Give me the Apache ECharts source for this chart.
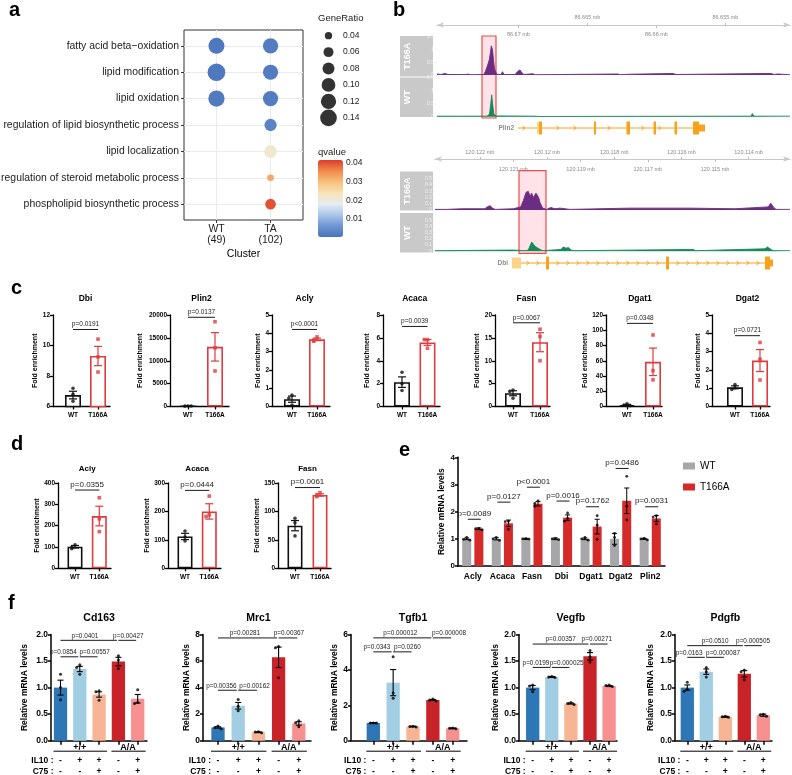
<!DOCTYPE html>
<html><head><meta charset="utf-8">
<script src="https://cdn.jsdelivr.net/npm/echarts/dist/echarts.min.js"></script>
<style>html,body{margin:0;padding:0;background:#fff}#c{width:792px;height:775px}</style>
</head><body><div id="c"></div>
<script>
const FONT = "'Liberation Sans', Arial, Helvetica, sans-serif";
// ---------------- Panel a data ----------------
const aTerms = ['fatty acid beta\u2212oxidation','lipid modification','lipid oxidation','regulation of lipid biosynthetic process','lipid localization','regulation of steroid metabolic process','phospholipid biosynthetic process'];
const aClusters = ['WT\n(49)','TA\n(102)'];
const aRatioWT = [0.130, 0.155, 0.134, null, null, null, null];
const aQvalWT  = [0.0012, 0.0012, 0.0015, null, null, null, null];
const aRatioTA = [0.120, 0.118, 0.120, 0.083, 0.088, 0.036, 0.067];
const aQvalTA  = [0.0020, 0.0018, 0.0020, 0.0030, 0.0215, 0.0325, 0.0400];
const aSizeLegend = [0.04, 0.06, 0.08, 0.10, 0.12, 0.14];
const aQTicks = [0.01, 0.02, 0.03, 0.04];
const aQRange = [0.0004, 0.0416];
// ---------------- Panel b data ----------------
const bTopRange = [86650321, 86675900];
const bTopAbove = [86665000, 86655000];
const bTopBelow = [86670000, 86660000];
const bTopT166A = [[86675900,0.04],[86675806,0.08],[86675610,0.02],[86675320,0.06],[86675103,0.02],[86673800,0.02],[86673654,0.04],[86673509,0.01],[86672494,0.02],[86672386,0.15],[86672255,0.35],[86672110,0.6],[86672023,0.9],[86671965,1.15],[86671878,1.0],[86671806,0.6],[86671733,0.25],[86671574,0.03],[86671263,0.02],[86671154,0.13],[86671045,0.02],[86670248,0.02],[86670031,0.15],[86669886,0.2],[86669741,0.08],[86669596,0.02],[86668944,0.05],[86668799,0.01],[86662785,0.04],[86662640,0.01],[86661988,0.03],[86661900,0.01],[86658799,0.06],[86658727,0.1],[86658582,0.02],[86651916,0.06],[86651698,0.06],[86651481,0.02],[86651191,0.04],[86651050,0.01],[86650321,0.01]];
const bTopWT = [[86675900,0.02],[86674233,0.02],[86674110,0.07],[86673980,0.02],[86672277,0.02],[86672096,0.1],[86672002,0.5],[86671937,0.85],[86671871,0.5],[86671784,0.1],[86671625,0.03],[86668800,0.02],[86668676,0.05],[86668509,0.01],[86653148,0.02],[86653054,0.12],[86652931,0.02],[86650321,0.02]];
const bPlin2Span = [86670031, 86656481];
const bPlin2Exons = [[86668654,86668509,'utr'],[86668509,86668292,'full'],[86664524,86664379,'full'],[86662169,86661915,'full'],[86660212,86660031,'full'],[86658691,86658510,'full'],[86657350,86656915,'full'],[86656915,86656481,'half']];
const bTopHighlight = [86672639, 86671625];
const bBotRange = [120112768, 120123333];
const bBotAbove = [120122000, 120120000, 120118000, 120116000, 120114000];
const bBotBelow = [120121000, 120119000, 120117000, 120115000];
const bBotT166A = [[120123333,0.01],[120122985,0.01],[120122539,0.02],[120121845,0.02],[120121777,0.05],[120121696,0.07],[120121616,0.03],[120121548,0.01],[120121003,0.02],[120120783,0.05],[120120705,0.15],[120120625,0.28],[120120557,0.3],[120120506,0.22],[120120455,0.27],[120120408,0.2],[120120327,0.27],[120120247,0.2],[120120208,0.12],[120120128,0.03],[120120009,0.01],[120119890,0.04],[120119762,0.02],[120119613,0.03],[120119464,0.02],[120119316,0.01],[120118423,0.02],[120117530,0.03],[120117232,0.03],[120115744,0.03],[120114405,0.02],[120113414,0.05],[120113343,0.11],[120113265,0.05],[120113185,0.01],[120112768,0.01]];
const bBotWT = [[120123333,0.01],[120121003,0.02],[120120655,0.01],[120120557,0.02],[120120455,0.15],[120120408,0.12],[120120357,0.08],[120120298,0.06],[120120208,0.03],[120120119,0.01],[120119583,0.03],[120119515,0.07],[120119435,0.05],[120119366,0.06],[120119286,0.02],[120119167,0.01],[120115655,0.03],[120115566,0.01],[120113512,0.04],[120113438,0.07],[120113364,0.04],[120113274,0.01],[120112768,0.01]];
const bDbiSpan = [120121042, 120113274];
const bDbiExons = [[120121042,120120774,'utr'],[120120030,120119940,'full'],[120116459,120116369,'full'],[120113512,120113364,'full'],[120113364,120113274,'half']];
const bBotHighlight = [120120833, 120120030];
// ---------------- Panel c data ----------------
const cGenes = ['Dbi','Plin2','Acly','Acaca','Fasn','Dgat1','Dgat2'];
const cGroups = ['WT','T166A'];
const cMean = [[6.75,9.31],[100,13040],[0.4,3.67],[2.13,5.6],[2.9,14.05],[2.0,58.6],[1.05,2.51]];
const cSem  = [[0.25,0.63],[30,3110],[0.17,0.07],[0.46,0.25],[0.55,2.08],[0.8,18],[0.08,0.6]];
const cDots = [[[7.2,6.8,6.35],[10.42,9.25,8.26]],[[120,80,100],[18535,12820,7765]],[[0.62,0.45,0.08],[3.8,3.63,3.57]],[[3.0,2.0,1.4],[5.85,5.85,5.1]],[[3.6,3.3,1.8],[16.9,15.3,10.0]],[[3.5,1.6,0.9],[93.8,47,35]],[[1.2,1.02,0.93],[3.5,2.58,1.45]]];
const cP = ['p=0.0191','p=0.0137','p<0.0001','p=0.0039','p=0.0067','p=0.0348','p=0.0721'];
const cPY = [11.05, 19500, 4.21, 7.0, 18.3, 109, 3.87];
const cYMin = [6,0,0,0,0,0,0];
const cYMax = [12,20000,5,8,20,120,5];
const cYStep = [2,5000,1,2,5,20,1];
// ---------------- Panel d data ----------------
const dGenes = ['Acly','Acaca','Fasn'];
const dMean = [[101,245],[112,200],[75,129]];
const dSem  = [[6,46],[11,27],[9,2]];
const dDots = [[[110,100,92],[331,232,172]],[[131,110,96],[254,188,182]],[[88,80,57],[133,129,126]]];
const dP = ['p=0.0355','p=0.0444','p=0.0061'];
const dPY = [367, 274, 142];
const dYMax = [400,300,150];
const dYStep = [100,100,50];
// ---------------- Panel e data ----------------
const eGenes = ['Acly','Acaca','Fasn','Dbi','Dgat1','Dgat2','Plin2'];
const eSeriesNames = ['WT','T166A'];
const eWTMean = [1.0,1.0,1.0,1.0,1.0,1.0,1.0];
const eWTSem  = [0.03,0.04,0.02,0.03,0.03,0.2,0.02];
const eWTDots = [[1.05,0.98,0.95],[1.05,1.0,0.94],[1.01,1.0,0.99],[1.02,1.0,0.97],[1.05,1.0,0.95],[1.2,1.05,0.75],[1.02,1.0,0.96]];
const eTAMean = [1.37,1.57,2.29,1.78,1.45,2.4,1.75];
const eTASem  = [0.03,0.12,0.08,0.1,0.27,0.47,0.11];
const eTADots = [[1.38,1.37,1.33],[1.65,1.63,1.35],[2.4,2.3,2.2],[1.95,1.75,1.65],[1.85,1.5,0.98],[3.3,2.2,1.7],[1.85,1.8,1.55]];
const eP = ['p=0.0089','p=0.0127','p<0.0001','p=0.0016','p=0.1762','p=0.0486','p=0.0031'];
const ePY = [1.72,2.35,2.9,2.39,2.18,3.59,2.18];
// ---------------- Panel f data ----------------
const fGenes = ['Cd163','Mrc1','Tgfb1','Vegfb','Pdgfb'];
const fMean = [[1.0,1.35,0.87,1.49,0.79],[1.0,2.63,0.64,6.28,1.3],[1.0,3.28,0.8,2.3,0.7],[1.0,1.2,0.7,1.59,1.03],[1.0,1.3,0.45,1.26,0.48]];
const fSem  = [[0.14,0.05,0.05,0.08,0.08],[0.05,0.25,0.03,0.77,0.13],[0.01,0.74,0.02,0.03,0.02],[0.04,0.01,0.01,0.07,0.01],[0.05,0.05,0.01,0.06,0.02]];
const fDots = [
 [[1.25,1.0,0.77],[1.43,1.38,1.25],[0.94,0.92,0.76],[1.6,1.52,1.36],[0.96,0.72,0.7]],
 [[1.1,1.0,0.9],[3.1,2.6,2.25],[0.68,0.65,0.6],[7.1,7.0,4.75],[1.5,1.35,1.05]],
 [[1.0,1.0,1.0],[4.75,2.7,2.4],[0.82,0.8,0.78],[2.35,2.3,2.25],[0.72,0.7,0.68]],
 [[1.05,1.03,0.92],[1.21,1.2,1.19],[0.72,0.7,0.68],[1.7,1.58,1.48],[1.05,1.04,1.02]],
 [[1.1,0.97,0.93],[1.38,1.3,1.2],[0.46,0.45,0.44],[1.33,1.3,1.15],[0.5,0.49,0.46]]];
const fYMax = [2.0, 8, 6, 2.0, 2.0];
const fYStep = [0.5, 2, 2, 0.5, 0.5];
const fBrackets = [
 [[0,1,1.58],[1,2,1.58],[0,3,1.89],[3,4,1.89]],
 [[0,1,3.8],[1,2,3.8],[0,3,7.74],[3,4,7.74]],
 [[0,1,5.02],[1,2,5.02],[0,3,5.81],[3,4,5.81]],
 [[0,1,1.38],[1,2,1.38],[0,3,1.82],[3,4,1.82]],
 [[0,1,1.57],[1,2,1.57],[0,3,1.79],[3,4,1.79]]];
const fBracketLabels = [
 ['p=0.0854','p=0.00557','p=0.0401','p=0.00427'],
 ['p=0.00356','p=0.00162','p=0.00281','p=0.00367'],
 ['p=0.0343','p=0.0260','p=0.000012','p=0.000008'],
 ['p=0.0199','p=0.000025','p=0.00357','p=0.00271'],
 ['p=0.0163','p=0.000087','p=0.0510','p=0.000505']];
const fGroupSpans = [[0,2],[3,4]];
const fGroupNames = ['+/+','A/A'];
const fIL10 = ['-','+','+','-','+'];
const fC75  = ['-','-','+','-','+'];

// ================= builders =================
const grids=[], xAxes=[], yAxes=[], series=[], graphics=[];
function F(s,b){ return (b?'bold ':'')+s+'px '+FONT; }
function addGrid(g){ grids.push(Object.assign({outerBoundsMode:'none', containLabel:false, show:false}, g)); return grids.length-1; }
function addX(a){ xAxes.push(a); return xAxes.length-1; }
function addY(a){ yAxes.push(a); return yAxes.length-1; }
function hiddenX(gi, extra){ return addX(Object.assign({gridIndex:gi, type:'value', show:false, min:0, max:1}, extra||{})); }
function hiddenY(gi, extra){ return addY(Object.assign({gridIndex:gi, type:'value', show:false, min:0, max:1}, extra||{})); }
function gtext(x,y,t,size,bold,align,color,rot,z){
  const el={type:'text', x, y, silent:true, z:z||100, style:{text:t, font:F(size,bold), fill:color||'#000', textAlign:align||'left', textVerticalAlign:'middle', align:align||'left', verticalAlign:'middle'}};
  if(rot) el.rotation=rot;
  graphics.push(el);
}
function tstyle(t,size,bold,align,va,color){ return {text:t, font:F(size,bold), fill:color||'#000', textAlign:align, textVerticalAlign:va, align:align, verticalAlign:va}; }

function errSeries(xi, yi, means, sems, colors, capW, lw, dxs){
  series.push({type:'custom', xAxisIndex:xi, yAxisIndex:yi, silent:true, z:3,
    data: means.map((m,i)=>[i,m,sems[i]]),
    renderItem:(p,api)=>{
      const i=p.dataIndex, m=api.value(1), s=api.value(2);
      const t=api.coord([api.value(0), m+s]), b=api.coord([api.value(0), m-s]);
      const cx=t[0]+(dxs?dxs[i]:0), h=capW/2, st={stroke:colors[i], lineWidth:lw};
      return {type:'group', children:[
        {type:'line', shape:{x1:cx,y1:t[1],x2:cx,y2:b[1]}, style:st},
        {type:'line', shape:{x1:cx-h,y1:t[1],x2:cx+h,y2:t[1]}, style:st},
        {type:'line', shape:{x1:cx-h,y1:b[1],x2:cx+h,y2:b[1]}, style:st}]};
    }});
}
function dotSeries(xi, yi, dots, colors, symbols, size, range, dxs){
  const data=[];
  dots.forEach((arr,i)=>{
    const placed=[];
    arr.forEach(v=>{
      const near=placed.filter(q=>Math.abs(q-v)<range*0.035).length;
      const off = near===0?0:(near===1?-3.2:3.2);
      placed.push(v);
      data.push({value:[i,v], symbol:symbols[i], symbolOffset:[off+(dxs?dxs[i]:0),0], itemStyle:{color:colors[i]}});
    });
  });
  series.push({type:'scatter', xAxisIndex:xi, yAxisIndex:yi, data, symbolSize:size, silent:true, z:4});
}
function bracketSeries(xi, yi, items, labels, font, dx1, dx2, tdx){
  series.push({type:'custom', xAxisIndex:xi, yAxisIndex:yi, silent:true, z:5, data:items,
    renderItem:(p,api)=>{
      const a=api.coord([api.value(0),api.value(2)]), b=api.coord([api.value(1),api.value(2)]);
      const x1=a[0]+dx1, x2=b[0]+dx2, y=a[1];
      const td = tdx ? tdx[p.dataIndex] : 0;
      return {type:'group', children:[
        {type:'line', shape:{x1,y1:y,x2,y2:y}, style:{stroke:'#000', lineWidth:0.9}},
        {type:'text', x:(x1+x2)/2+td, y:y-1.5, style:{text:labels[p.dataIndex], font, fill:'#222', textAlign:'center', textVerticalAlign:'bottom', align:'center', verticalAlign:'bottom'}}]};
    }});
}
function barPanel(o){
  const gi=addGrid({left:o.axis, top:o.top, width:o.right-o.axis, height:o.bottom-o.top});
  const n=o.means.length, idx=o.means.map((_,i)=>i);
  const ls={color:'#000', width:o.lw};
  const xi=addX({gridIndex:gi, type:'value', min:-(o.first-o.axis)/o.sp, max:(o.right-o.first)/o.sp,
    axisLine:{show:true, onZero:false, lineStyle:ls},
    axisTick:{show:true, customValues:idx, length:o.tickLen||3, lineStyle:ls},
    axisLabel:o.cats?{show:true, customValues:idx, formatter:v=>o.cats[Math.round(v)], fontFamily:FONT, fontSize:o.xFont, fontWeight:'bold', color:'#000', margin:o.xMargin||4}:{show:false},
    splitLine:{show:false}});
  const yi=addY({gridIndex:gi, type:'value', min:o.ymin, max:o.ymax, interval:o.step,
    axisLine:{show:true, onZero:false, lineStyle:ls},
    axisTick:{show:true, length:3, lineStyle:ls},
    axisLabel:{fontFamily:FONT, fontSize:o.yFont, fontWeight:'bold', color:'#000', margin:3, formatter:o.yFmt},
    splitLine:{show:false},
    name:o.yName, nameLocation:'middle', nameGap:o.nameGap, nameRotate:90,
    nameTextStyle:{fontFamily:FONT, fontSize:o.nameFont, fontWeight:'bold', color:'#000'}});
  series.push({type:'bar', xAxisIndex:xi, yAxisIndex:yi, barWidth:o.barW, silent:true, z:2,
    data:o.means.map((m,i)=>({value:[i,m], itemStyle:{color:o.fills[i], borderColor:o.borders?o.borders[i]:o.fills[i], borderWidth:o.borderW||0}}))});
  errSeries(xi, yi, o.means, o.sems, o.errColors, o.capW, o.errW);
  dotSeries(xi, yi, o.dots, o.dotColors, o.dotSymbols, o.dotSize, o.ymax-o.ymin);
  bracketSeries(xi, yi, o.brackets, o.bLabels, o.pFont, 0, o.bShrink||0, o.tdx);
  gtext((o.first+o.first+o.sp*(n-1))/2, o.titleY, o.title, o.titleFont, true, 'center');
  return {xi, yi};
}

// ================= Panel a =================
gtext(9, 10, 'a', 20, true, 'left');
const aGrid=addGrid({left:184, top:30, width:119, height:190, show:true, borderColor:'#333', borderWidth:1, backgroundColor:'#fff'});
const aX=addX({gridIndex:aGrid, type:'value', min:0.4, max:2.6,
  axisLine:{show:false}, axisTick:{show:true, customValues:[1,2], length:3, lineStyle:{color:'#333'}},
  axisLabel:{customValues:[1,2], formatter:v=>aClusters[Math.round(v)-1], fontSize:10.4, lineHeight:10.5, color:'#1a1a1a', margin:4, fontFamily:FONT},
  splitLine:{show:true, lineStyle:{color:'#ebebeb', width:1}},
  name:'Cluster', nameLocation:'middle', nameGap:29, nameTextStyle:{fontSize:10.5, color:'#000', fontFamily:FONT}});
const aY=addY({gridIndex:aGrid, type:'value', min:0.4, max:7.6, inverse:true,
  axisLine:{show:false}, axisTick:{show:true, customValues:[1,2,3,4,5,6,7], length:3, lineStyle:{color:'#333'}},
  axisLabel:{customValues:[1,2,3,4,5,6,7], formatter:v=>aTerms[Math.round(v)-1], fontSize:10.4, color:'#1a1a1a', margin:5, fontFamily:FONT},
  splitLine:{show:true, lineStyle:{color:'#ebebeb', width:1}}});
const aPts=[];
aTerms.forEach((t,i)=>{
  if(aRatioWT[i]!=null) aPts.push([1,i+1,aRatioWT[i],aQvalWT[i]]);
  if(aRatioTA[i]!=null) aPts.push([2,i+1,aRatioTA[i],aQvalTA[i]]);
});
const sizeFn = v=>Math.sqrt(2256*v-37);
const aSeriesIdx=series.length;
series.push({type:'scatter', xAxisIndex:aX, yAxisIndex:aY, data:aPts, symbolSize:v=>sizeFn(v[2]), silent:true, z:3, itemStyle:{opacity:1}});
gtext(318, 18, 'GeneRatio', 9.5, false, 'left', '#1a1a1a');
const slG=addGrid({left:320, top:27.5, width:17, height:98.5});
const slX=addX({gridIndex:slG, type:'category', data:['s'], show:false});
const slY=addY({gridIndex:slG, type:'category', data:aSizeLegend.map(v=>v.toFixed(2)), inverse:true, position:'right',
  axisLine:{show:false}, axisTick:{show:false}, axisLabel:{fontSize:8.5, color:'#1a1a1a', margin:6, fontFamily:FONT}, splitLine:{show:false}});
series.push({type:'scatter', xAxisIndex:slX, yAxisIndex:slY, data:aSizeLegend.map((v,i)=>[0,i,v]), symbolSize:v=>sizeFn(v[2]), itemStyle:{color:'#000'}, silent:true});
gtext(318, 152, 'qvalue', 9.5, false, 'left', '#1a1a1a');
const cbG=addGrid({left:318, top:160, width:25, height:77});
hiddenX(cbG);
addY({gridIndex:cbG, type:'value', min:aQRange[0], max:aQRange[1], position:'right',
  axisLine:{show:false}, axisTick:{show:true, inside:true, customValues:aQTicks, length:5, lineStyle:{color:'#fff', width:1}},
  axisLabel:{customValues:aQTicks, formatter:v=>v.toFixed(2), fontSize:8.5, color:'#1a1a1a', margin:3, fontFamily:FONT}, splitLine:{show:false}, z:10});

// ================= Panel b =================
gtext(393, 10, 'b', 20, true, 'left');
const mbFmt = v=>parseFloat((v/1e6).toFixed(3))+' mb';
function geneSeries(xi, yi, exons, span, label, step){
  const hmap={full:13, half:7, utr:11};
  series.push({type:'custom', xAxisIndex:xi, yAxisIndex:yi, silent:true, z:3, data:[span],
    renderItem:(p,api)=>{
      const a=api.coord([api.value(0),0.5]), b=api.coord([api.value(1),0.5]);
      const x1=Math.min(a[0],b[0]), x2=Math.max(a[0],b[0]), y=a[1];
      const ex=exons.map(e=>{const u=api.coord([e[0],0.5])[0], w=api.coord([e[1],0.5])[0]; return [Math.min(u,w),Math.max(u,w)];});
      const ch=[{type:'line', shape:{x1,y1:y,x2,y2:y}, style:{stroke:'#f5a21b', lineWidth:1}}];
      for(let x=x1+6; x<x2-3; x+=step){
        if(ex.some(r=>x>r[0]-3 && x<r[1]+3)) continue;
        ch.push({type:'polyline', shape:{points:[[x-1.5,y-2],[x+1,y],[x-1.5,y+2]]}, style:{stroke:'#f5a21b', lineWidth:1, fill:null}});
      }
      ch.push({type:'text', x:x1-4, y, style:tstyle(label,6.5,true,'right','middle','#8a8a8a')});
      return {type:'group', children:ch};
    }});
  series.push({type:'custom', xAxisIndex:xi, yAxisIndex:yi, silent:true, z:4, data:exons.map(e=>[e[0],e[1]]),
    renderItem:(p,api)=>{
      const e=exons[p.dataIndex];
      const a=api.coord([api.value(0),0.5]), b=api.coord([api.value(1),0.5]);
      const h=hmap[e[2]];
      return {type:'rect', shape:{x:Math.min(a[0],b[0]), y:a[1]-h/2, width:Math.max(1.5,Math.abs(b[0]-a[0])), height:h}, style:{fill:e[2]==='utr'?'#fdd38a':'#f7a21b'}};
    }});
}
function trackSet(o){
  const L=o.left, W=o.width, mn=o.range[0], mx=o.range[1];
  const hg=addGrid({left:L, top:o.hlTop, width:W, height:o.hlBottom-o.hlTop});
  const hx=hiddenX(hg,{min:mn,max:mx,inverse:true}), hy=hiddenY(hg);
  series.push({type:'custom', xAxisIndex:hx, yAxisIndex:hy, silent:true, z:1, data:[o.hl],
    renderItem:(p,api)=>{
      const a=api.coord([api.value(0),1]), b=api.coord([api.value(1),0]);
      return {type:'rect', shape:{x:Math.min(a[0],b[0]), y:a[1], width:Math.abs(b[0]-a[0]), height:b[1]-a[1]}, style:{fill:'rgba(255,175,190,0.35)', stroke:'#ef4b4b', lineWidth:1.2}};
    }});
  const rg=addGrid({left:L, top:o.rulerY, width:W, height:1});
  addX({gridIndex:rg, type:'value', position:'top', min:mn, max:mx, inverse:true,
    axisLine:{show:true, onZero:false, symbol:['arrow','arrow'], symbolSize:[4,7], lineStyle:{color:'#c8c8c8', width:1}},
    axisTick:{show:true, customValues:o.above, length:2, lineStyle:{color:'#bbb'}},
    axisLabel:{customValues:o.above, formatter:mbFmt, fontSize:5.5, color:'#8a8a8a', margin:o.aboveMargin, fontFamily:FONT},
    splitLine:{show:false}});
  addX({gridIndex:rg, type:'value', position:'bottom', min:mn, max:mx, inverse:true,
    axisLine:{show:false}, axisTick:{show:true, customValues:o.below, length:2, lineStyle:{color:'#bbb'}},
    axisLabel:{customValues:o.below, formatter:mbFmt, fontSize:5.5, color:'#8a8a8a', margin:o.belowMargin, fontFamily:FONT},
    splitLine:{show:false}});
  hiddenY(rg);
  o.tracks.forEach(t=>{
    const bg=addGrid({left:400, top:t.boxTop, width:33, height:t.boxBottom-t.boxTop, show:true, backgroundColor:'#c9c9c9', borderWidth:0});
    hiddenX(bg); hiddenY(bg);
    gtext(408, (t.boxTop+t.boxBottom)/2, t.name, 9, true, 'center', '#fff', Math.PI/2);
    const g=addGrid({left:L, top:t.top, width:W, height:t.height});
    const xi=hiddenX(g,{min:mn,max:mx,inverse:true});
    const yi=addY({gridIndex:g, type:'value', min:0, max:t.ymax,
      axisLine:{show:false}, axisTick:{show:true, customValues:t.ticks, length:1.5, lineStyle:{color:'#eee'}},
      axisLabel:{customValues:t.ticks, formatter:v=>String(parseFloat(v.toFixed(1))), fontSize:5, color:'#f2f2f2', margin:3, fontFamily:FONT},
      splitLine:{show:false}, z:5});
    series.push({type:'line', xAxisIndex:xi, yAxisIndex:yi, data:t.data, symbol:'none', silent:true, z:3,
      lineStyle:{color:t.color, width:0.9}, areaStyle:{color:t.color, opacity:1}});
  });
  const gg=addGrid({left:L, top:o.geneTop, width:W, height:14});
  const gx=hiddenX(gg,{min:mn,max:mx,inverse:true}), gy=hiddenY(gg);
  geneSeries(gx, gy, o.exons, o.span, o.gene, o.step);
}
trackSet({left:437, width:353, range:bTopRange, rulerY:25, above:bTopAbove, below:bTopBelow, aboveMargin:5, belowMargin:5,
  hl:bTopHighlight, hlTop:36, hlBottom:118,
  tracks:[{name:'T166A', top:37, height:38, ymax:1.5, ticks:[0,0.5,1,1.5], data:bTopT166A, color:'#6b2c82', boxTop:36, boxBottom:76.5},
          {name:'WT', top:78, height:38.7, ymax:1.5, ticks:[0,0.5,1,1.5], data:bTopWT, color:'#17895a', boxTop:77.5, boxBottom:117}],
  geneTop:121, exons:bPlin2Exons, span:bPlin2Span, gene:'Plin2', step:17});
trackSet({left:435, width:355, range:bBotRange, rulerY:159, above:bBotAbove, below:bBotBelow, aboveMargin:4, belowMargin:6,
  hl:bBotHighlight, hlTop:170.7, hlBottom:253.3,
  tracks:[{name:'T166A', top:172.5, height:37.5, ymax:0.6, ticks:[0,0.1,0.2,0.3,0.4,0.5], data:bBotT166A, color:'#6b2c82', boxTop:171.5, boxBottom:210.5},
          {name:'WT', top:214, height:37.3, ymax:0.6, ticks:[0,0.1,0.2,0.3,0.4,0.5], data:bBotWT, color:'#17895a', boxTop:213, boxBottom:252.5}],
  geneTop:256, exons:bDbiExons, span:bDbiSpan, gene:'Dbi', step:10});

// ================= Panel c =================
gtext(11, 288, 'c', 20, true, 'left');
const RED='#e03a3c';
const cLayout=[{axis:53,first:73,sp:25,right:110,ng:14},{axis:170,first:188,sp:27,right:229,ng:26},{axis:272,first:292,sp:25,right:330,ng:10},{axis:383,first:402,sp:25.5,right:440,ng:12},{axis:495,first:513,sp:27,right:550,ng:14},{axis:606,first:627,sp:26,right:662,ng:17},{axis:712,first:735,sp:25,right:770,ng:8}];
cGenes.forEach((g,k)=>{
  const L=cLayout[k];
  barPanel({axis:L.axis, first:L.first, sp:L.sp, right:L.right, top:315, bottom:406.5, cats:cGroups,
    means:cMean[k], sems:cSem[k], dots:cDots[k], fills:['#fff','#fff'], borders:['#111',RED], borderW:1.6,
    errColors:['#111',RED], errW:1.2, capW:8, dotColors:['#111',RED], dotSymbols:['circle','rect'], dotSize:3.6,
    barW:16, lw:1.3, ymin:cYMin[k], ymax:cYMax[k], step:cYStep[k], yFmt:v=>String(v), yFont:6.5, xFont:6.5, xMargin:5,
    yName:'Fold enrichment', nameGap:L.ng, nameFont:7, brackets:[[0,1,cPY[k]]], bLabels:[cP[k]], pFont:F(6.5,false),
    title:g, titleY:299, titleFont:8.5});
});

// ================= Panel d =================
gtext(11, 444, 'd', 20, true, 'left');
const dLayout=[{axis:58,first:75,sp:24.3,right:111,ng:17},{axis:168,first:185,sp:24.3,right:221,ng:17},{axis:278,first:295,sp:25,right:331,ng:16}];
dGenes.forEach((g,k)=>{
  const L=dLayout[k];
  barPanel({axis:L.axis, first:L.first, sp:L.sp, right:L.right, top:483, bottom:568.3, cats:cGroups,
    means:dMean[k], sems:dSem[k], dots:dDots[k], fills:['#fff','#fff'], borders:['#111',RED], borderW:1.6,
    errColors:['#111',RED], errW:1.2, capW:8, dotColors:['#111',RED], dotSymbols:['circle','rect'], dotSize:3.6,
    barW:15, lw:1.3, ymin:0, ymax:dYMax[k], step:dYStep[k], yFmt:v=>String(v), yFont:6.5, xFont:6.5, xMargin:5,
    yName:'Fold enrichment', nameGap:L.ng, nameFont:7, brackets:[[0,1,dPY[k]]], bLabels:[dP[k]], pFont:F(8,false),
    title:g, titleY:469, titleFont:8});
});

// ================= Panel e =================
gtext(399, 450, 'e', 20, true, 'left');
const eG=addGrid({left:458, top:457.3, width:207, height:108.7});
const eX=addX({gridIndex:eG, type:'category', data:eGenes,
  axisLine:{show:true, onZero:false, lineStyle:{color:'#000', width:1.5}}, axisTick:{show:false},
  axisLabel:{interval:0, fontSize:8.5, fontWeight:'bold', color:'#000', margin:6, fontFamily:FONT}});
const eY=addY({gridIndex:eG, type:'value', min:0, max:4, interval:1,
  axisLine:{show:true, onZero:false, lineStyle:{color:'#000', width:1.5}}, axisTick:{show:true, length:3, lineStyle:{color:'#000', width:1.5}},
  axisLabel:{fontSize:8, fontWeight:'bold', color:'#000', margin:3, fontFamily:FONT}, splitLine:{show:false},
  name:'Relative mRNA levels', nameLocation:'middle', nameGap:10, nameRotate:90, nameTextStyle:{fontSize:8.5, fontWeight:'bold', color:'#000', fontFamily:FONT}});
series.push({type:'bar', name:eSeriesNames[0], xAxisIndex:eX, yAxisIndex:eY, data:eWTMean, barWidth:9, barGap:'35%', itemStyle:{color:'#a7a7a9'}, silent:true, z:2});
series.push({type:'bar', name:eSeriesNames[1], xAxisIndex:eX, yAxisIndex:eY, data:eTAMean, barWidth:9, barGap:'35%', itemStyle:{color:'#d42a2a'}, silent:true, z:2});
const eOff=6.1, blk=eGenes.map(()=>'#000');
errSeries(eX, eY, eWTMean, eWTSem, blk, 5, 1, eGenes.map(()=>-eOff));
errSeries(eX, eY, eTAMean, eTASem, blk, 5, 1, eGenes.map(()=>eOff));
dotSeries(eX, eY, eWTDots, blk, eGenes.map(()=>'circle'), 2.8, 4, eGenes.map(()=>-eOff));
dotSeries(eX, eY, eTADots, blk, eGenes.map(()=>'circle'), 2.8, 4, eGenes.map(()=>eOff));
bracketSeries(eX, eY, eGenes.map((_,i)=>[i,i,ePY[i]]), eP, F(8,false), -5, 8);

// ================= Panel f =================
gtext(8, 603, 'f', 20, true, 'left');
const fColors=['#2e77b7','#a2cee3','#f7b595','#c9232a','#f69190'];
const fLayout=[{axis:51,first:60.5,sp:19.3,right:147,ng:22},{axis:203,first:218,sp:20.2,right:311,ng:11},{axis:351,first:373.3,sp:19.85,right:467,ng:10},{axis:519,first:532.7,sp:19.1,right:617,ng:19},{axis:675,first:687.3,sp:19,right:772,ng:20}];
const fLabelDx = [[-6,6,-3.7,1],[-6,7,-2.7,1],[-5.5,5,-2,7],[-5.5,6,0,-2],[-7,8,0,0]];
fGenes.forEach((g,k)=>{
  const L=fLayout[k];
  const r=barPanel({axis:L.axis, first:L.first, sp:L.sp, right:L.right, top:634.5, bottom:740.7, cats:null, tickLen:4,
    means:fMean[k], sems:fSem[k], dots:fDots[k], fills:fColors, borderW:0,
    errColors:fColors.map(()=>'#000'), errW:1.1, capW:6, dotColors:fColors.map(()=>'#000'), dotSymbols:fColors.map(()=>'circle'), dotSize:3,
    barW:13.3, lw:1.5, ymin:0, ymax:fYMax[k], step:fYStep[k], yFmt:(fYStep[k]<1?(v=>v.toFixed(1)):(v=>String(v))), yFont:8.5,
    yName:'Relative mRNA levels', nameGap:L.ng, nameFont:8.5, brackets:fBrackets[k], bLabels:fBracketLabels[k], pFont:F(6.4,false), bShrink:-1.5, tdx:fLabelDx[k],
    title:g, titleY:618, titleFont:10.5});
  series.push({type:'custom', xAxisIndex:r.xi, yAxisIndex:r.yi, silent:true, z:5, data:[[0,0]],
    renderItem:(p,api)=>{
      const ch=[], base=api.coord([0,0])[1], px=i=>api.coord([i,0])[0];
      fGroupSpans.forEach((s,j)=>{
        const x1=px(s[0])-7, x2=px(s[1])+8;
        ch.push({type:'text', x:(px(s[0])+px(s[1]))/2, y:base+6.5, style:tstyle(fGroupNames[j],9,true,'center','middle')});
        ch.push({type:'line', shape:{x1,y1:base+10.5,x2,y2:base+10.5}, style:{stroke:'#000', lineWidth:1}});
      });
      fIL10.forEach((s,i)=>ch.push({type:'text', x:px(i), y:base+20, style:tstyle(s,8.5,true,'center','middle')}));
      fC75.forEach((s,i)=>ch.push({type:'text', x:px(i), y:base+30.5, style:tstyle(s,8.5,true,'center','middle')}));
      ch.push({type:'text', x:px(0)-7, y:base+20, style:tstyle('IL10 :',8.5,true,'right','middle')});
      ch.push({type:'text', x:px(0)-7, y:base+30.5, style:tstyle('C75 :',8.5,true,'right','middle')});
      return {type:'group', children:ch};
    }});
});

const chart=echarts.init(document.getElementById('c'), null, {renderer:'canvas'});
chart.setOption({
  animation:false,
  textStyle:{fontFamily:FONT},
  grid:grids, xAxis:xAxes, yAxis:yAxes, series,
  graphic:{elements:graphics},
  legend:{data:eSeriesNames, left:683, top:461, orient:'vertical', icon:'rect', itemWidth:12, itemHeight:7, itemGap:11, padding:0, selectedMode:false,
    textStyle:{fontSize:10, color:'#000', fontFamily:FONT}},
  visualMap:[{type:'continuous', seriesIndex:aSeriesIdx, dimension:3, min:aQRange[0], max:aQRange[1], left:318, top:160, itemWidth:25, itemHeight:77,
    calculable:false, padding:0, text:null, hoverLink:false, realtime:false,
    inRange:{color:['#4a74bb','#6e95d2','#a9c6ea','#e6ecf2','#f7e3b8','#f8c07a','#f18c4e','#dd3b2a']}}]
});
</script></body></html>
